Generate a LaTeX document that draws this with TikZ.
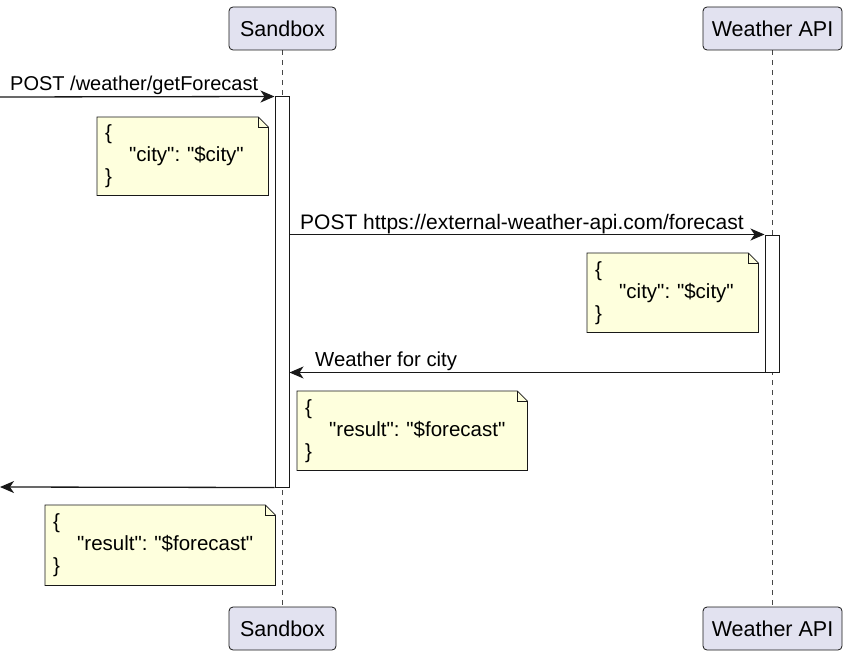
\documentclass[tikz,border=0pt]{standalone}
\usepackage{fontspec}
\setmainfont{Liberation Sans}[Ligatures=TeXOff]
\frenchspacing
\usetikzlibrary{arrows.meta,backgrounds}
\definecolor{partfill}{HTML}{E2E2F0}
\definecolor{notefill}{HTML}{FEFFDD}
\definecolor{ink}{HTML}{181818}
\tikzset{
  participant/.style={draw=ink, fill=partfill, rounded corners=4pt, line width=0.8pt,
    minimum height=43pt, inner sep=0pt, font=\fontsize{21.5}{25}\selectfont},
  lifeline/.style={draw=ink!80, dash pattern=on 5pt off 5pt, line width=0.7pt},
  actbar/.style={draw=ink, fill=white, line width=1pt, minimum width=14pt, inner sep=0pt},
  msg/.style={draw=ink, line width=1.3pt, -{Stealth[length=14pt,width=12pt,inset=4pt]}},
  msglabel/.style={anchor=base west, inner sep=0pt, font=\fontsize{20.3}{24}\selectfont},
  notebox/.style={anchor=north west, inner xsep=8pt, inner ysep=0pt, align=left,
    font=\fontsize{20.5}{22}\selectfont},
  noteshape/.style={draw=ink, fill=notefill, line width=0.8pt},
  notefold/.style={draw=ink, line width=0.8pt}
}
\begin{document}
\begin{tikzpicture}[x=1pt,y=-1pt]
\useasboundingbox (0,0) rectangle (850,658);

% participants
\node[participant, minimum width=107pt] (sbTop) at (282.5,28.5) {Sandbox};
\node[participant, minimum width=139pt] (waTop) at (772.5,28.5) {Weather API};
\node[participant, minimum width=107pt] (sbBot) at (282.5,628.5) {Sandbox};
\node[participant, minimum width=139pt] (waBot) at (772.5,628.5) {Weather API};

% activation bars
\node[actbar, minimum height=390pt] (actS) at (282,292) {};
\node[actbar, minimum height=137pt] (actW) at (772,303.5) {};

% notes
\node[notebox, text width=155pt, minimum height=78pt] (n1) at (97,117)
  {\{\\\hspace*{24pt}"city": "\$city"\\\}};
\node[notebox, text width=155pt, minimum height=79pt] (n2) at (587,253)
  {\{\\\hspace*{24pt}"city": "\$city"\\\}};
\node[notebox, text width=214pt, minimum height=79pt] (n3) at (297,391)
  {\{\\\hspace*{24pt}"result": "\$forecast"\\\}};
\node[notebox, text width=214pt, minimum height=80pt] (n4) at (45,505)
  {\{\\\hspace*{24pt}"result": "\$forecast"\\\}};

\begin{scope}[on background layer]
  \draw[lifeline] (sbTop.south) -- (sbBot.north);
  \draw[lifeline] (waTop.south) -- (waBot.north);
  \foreach \n in {n1,n2,n3,n4}{
    \draw[noteshape] (\n.north west) -- ([xshift=-10pt]\n.north east)
      -- ([yshift=-10pt]\n.north east) -- (\n.south east) -- (\n.south west) -- cycle;
    \draw[notefold] ([xshift=-10pt]\n.north east) -- ([xshift=-10pt,yshift=-10pt]\n.north east)
      -- ([yshift=-10pt]\n.north east);
  }
\end{scope}

% messages
\coordinate (caller) at (0,97);
\coordinate (callerret) at (0,487);
\draw[msg] (caller) -- (actS.north west);
\node[msglabel, font=\fontsize{20}{24}\selectfont] (l1) at (10,91) {POST /weather/getForecast};

\draw[msg] (actS.east |- actW.north) -- (actW.north west);
\node[msglabel, font=\fontsize{21}{24}\selectfont] (l2) at (300,229) {POST https://external-weather-api.com/forecast};

\draw[msg] (actW.south west) -- (actS.east |- actW.south);
\node[msglabel] (l3) at (315,366) {Weather for city};

\draw[msg] (actS.south west) -- (callerret);
\end{tikzpicture}
\end{document}
